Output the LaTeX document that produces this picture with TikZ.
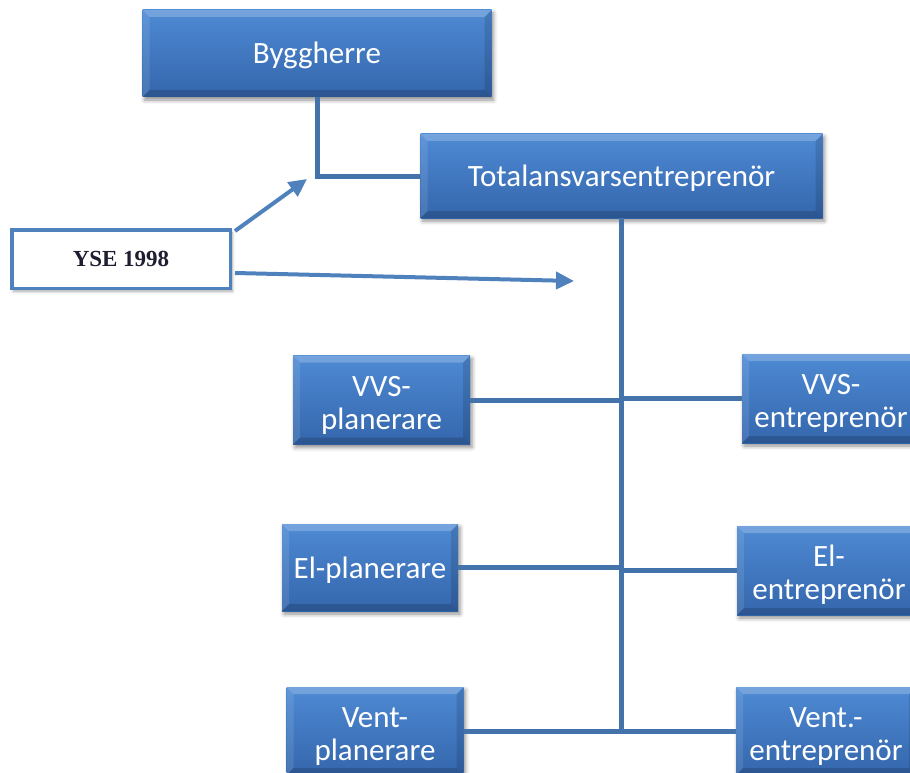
\documentclass[tikz,border=0pt]{standalone}
\usepackage{fontspec}
\setmainfont{Carlito}
\newfontfamily\ysefont{Liberation Serif}
\usetikzlibrary{shadows.blur,arrows.meta}

\definecolor{boxtop}{RGB}{78,138,212}
\definecolor{boxbot}{RGB}{52,102,172}
\definecolor{linkblue}{RGB}{68,114,170}
\definecolor{arrowblue}{RGB}{79,129,189}
\definecolor{notetext}{RGB}{30,30,48}

\tikzset{
  boxbevel/.style={path picture={
    \fill[white,opacity=.22]
      (path picture bounding box.north west) -- (path picture bounding box.north east)
      -- ([xshift=-7pt,yshift=-7pt]path picture bounding box.north east)
      -- ([xshift=7pt,yshift=-7pt]path picture bounding box.north west) -- cycle;
    \fill[white,opacity=.10]
      (path picture bounding box.north west) -- ([xshift=7pt,yshift=-7pt]path picture bounding box.north west)
      -- ([xshift=7pt,yshift=7pt]path picture bounding box.south west)
      -- (path picture bounding box.south west) -- cycle;
    \fill[black,opacity=.12]
      (path picture bounding box.north east) -- ([xshift=-7pt,yshift=-7pt]path picture bounding box.north east)
      -- ([xshift=-7pt,yshift=7pt]path picture bounding box.south east)
      -- (path picture bounding box.south east) -- cycle;
    \fill[black,opacity=.16]
      (path picture bounding box.south west) -- (path picture bounding box.south east)
      -- ([xshift=-7pt,yshift=7pt]path picture bounding box.south east)
      -- ([xshift=7pt,yshift=7pt]path picture bounding box.south west) -- cycle;
  }},
  orgbox/.style={draw=none, top color=boxtop, bottom color=boxbot, text=white,
    font=\fontsize{31}{33}\selectfont, align=center, inner sep=0pt,
    blur shadow={shadow xshift=2pt, shadow yshift=-3pt, shadow blur radius=4pt, shadow opacity=45},
    boxbevel},
  oneline/.style={orgbox, text height=27pt, text depth=6pt},
  twoline/.style={orgbox, text height=62pt, text depth=4pt},
  notebox/.style={draw=arrowblue, line width=3.5pt, fill=white, inner sep=0pt,
    font=\ysefont\bfseries\fontsize{23}{26}\selectfont, text=notetext,
    blur shadow={shadow xshift=2pt, shadow yshift=-3pt, shadow blur radius=3pt, shadow opacity=35}},
  linkline/.style={draw=linkblue, line width=5pt, line join=miter},
  notearrow/.style={draw=arrowblue, line width=4pt, -{Triangle[length=18pt,width=17pt]}}
}

\begin{document}
\begin{tikzpicture}[x=1pt,y=-1pt]
\useasboundingbox (0,0) rectangle (910,773);
\clip (0,0) rectangle (910,773);

% boxes of the organisation
\node[oneline, minimum width=349pt, minimum height=87pt] (bygg)  at (317,53.5)  {Byggherre};
\node[oneline, minimum width=402pt, minimum height=84pt] (total) at (621.5,176) {Totalansvarsentreprenör};

\node[twoline, minimum width=177pt, minimum height=89pt] (vvsp)  at (381.5,400) {VVS-\\planerare};
\node[twoline, minimum width=178pt, minimum height=89pt] (vvse)  at (831,398.5) {VVS-\\entreprenör};
\node[oneline, minimum width=176pt, minimum height=87pt] (elp)   at (370,567.5) {El-planerare};
\node[twoline, minimum width=184pt, minimum height=89pt] (ele)   at (829,570.5) {El-\\entreprenör};
\node[twoline, minimum width=177pt, minimum height=88pt] (ventp) at (375,731)   {Vent-\\planerare};
\node[twoline, minimum width=180pt, minimum height=88pt] (vente) at (826,731)   {Vent.-\\entreprenör};

% note box with its two arrows
\node[notebox, minimum width=218.5pt, minimum height=58.5pt] (yse) at (121,259) {YSE 1998};
\coordinate (tipA) at (307,179);
\coordinate (tipB) at (574,281);
\draw[notearrow] ([xshift=3pt,yshift=-3pt]yse.north east) -- (tipA);
\draw[notearrow] ([xshift=3pt,yshift=-14pt]yse.east) -- (tipB);

% connectors
\draw[linkline] (bygg.south) |- (total.west);
\coordinate (trunkend) at (622,733.5);
\draw[linkline] (total.south) -- (total.south |- trunkend);
\draw[linkline] (vvsp.east)  -- (vvsp.east -| total.south);
\draw[linkline] (vvse.west)  -- (vvse.west -| total.south);
\draw[linkline] (elp.east)   -- (elp.east -| total.south);
\draw[linkline] (ele.west)   -- (ele.west -| total.south);
\draw[linkline] (ventp.east) -- (ventp.east -| total.south);
\draw[linkline] (vente.west) -- (vente.west -| total.south);
\end{tikzpicture}
\end{document}
